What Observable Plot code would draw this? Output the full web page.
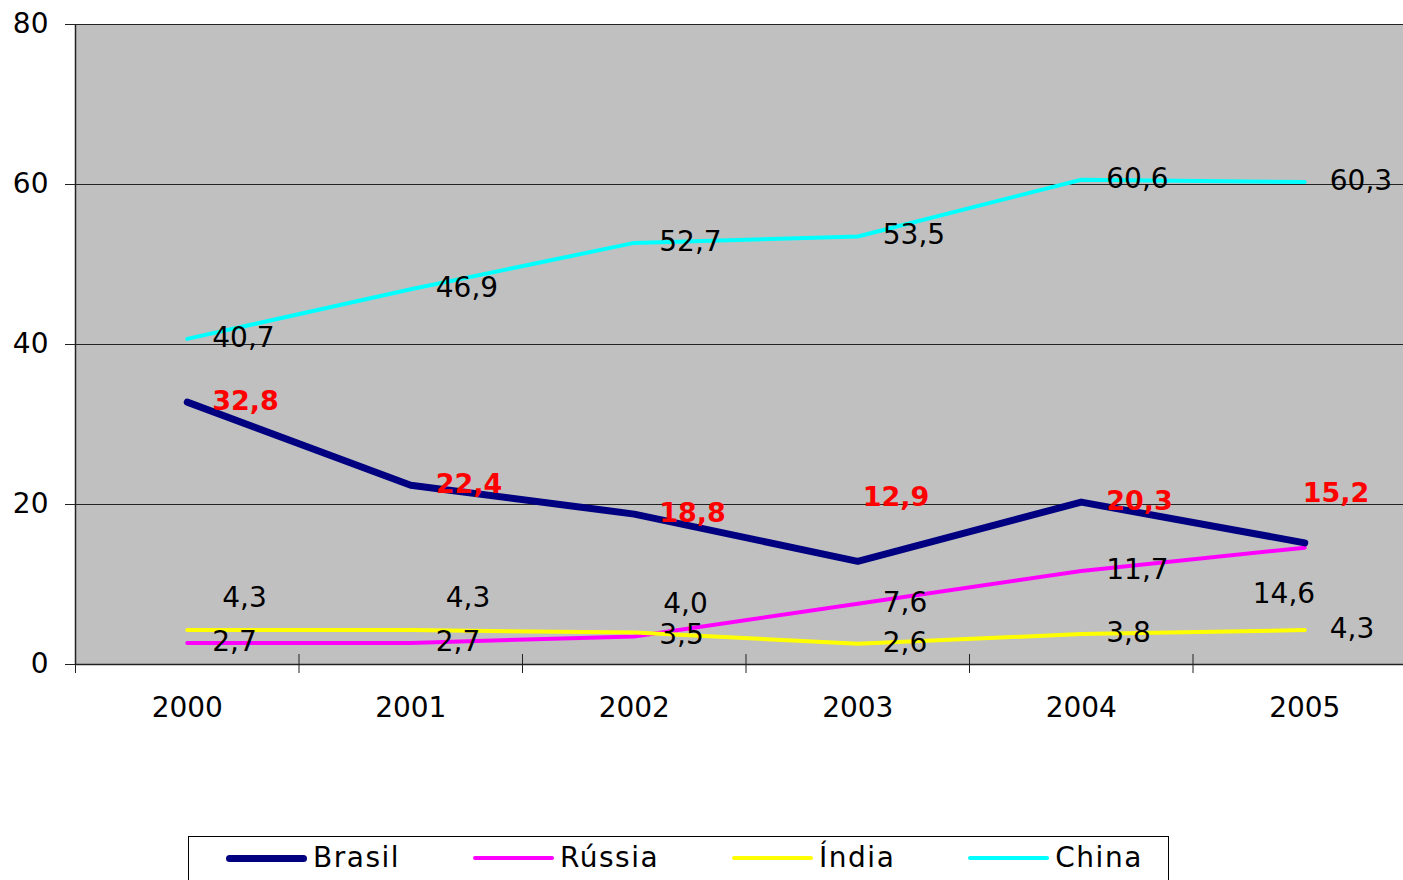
<!DOCTYPE html>
<html>
<head>
<meta charset="utf-8">
<script src="https://cdn.jsdelivr.net/npm/d3@7"></script>
<script src="https://cdn.jsdelivr.net/npm/@observablehq/plot@0.6"></script>
<style>
  html, body { margin: 0; padding: 0; background: #fff; overflow: hidden; width: 1403px; height: 880px; }
  body { font-family: "DejaVu Sans", sans-serif; }
  #chart { width: 1403px; height: 830px; overflow: hidden; }
  #chart svg { display: block; max-width: none !important; }
  #legend {
    margin: 6px 0 0 188px;
    border: 1px solid #000; border-bottom: none;
    padding: 5px 0 0 37px; width: 942px; height: 40px;
    display: flex; align-items: flex-start;
    font-size: 28px; letter-spacing: 1.5px; color: #000; line-height: 32px;
  }
  .item { display: flex; align-items: center; margin-right: 73px; height: 32px; }
  .swatch { display: inline-block; width: 81px; border-radius: 4px; margin-right: 6px; }
</style>
</head>
<body>
<div id="chart"></div>
<div id="legend"></div>
<script>
// ---- data ----
const years = [2000, 2001, 2002, 2003, 2004, 2005];
const seriesNames = ["Brasil", "Rússia", "Índia", "China"];
const brasil = [32.8, 22.4, 18.8, 12.9, 20.3, 15.2];
const russia = [2.7, 2.7, 3.5, 7.6, 11.7, 14.6];
const india  = [4.3, 4.3, 4.0, 2.6, 3.8, 4.3];
const china  = [40.7, 46.9, 52.7, 53.5, 60.6, 60.3];
const yTicks = [0, 20, 40, 60, 80];

// ---- styles ----
const colors = {"Brasil": "#000080", "Rússia": "#FF00FF", "Índia": "#FFFF00", "China": "#00FFFF"};
const widths = {"Brasil": 7, "Rússia": 4, "Índia": 4, "China": 4};
const drawOrder = ["Rússia", "Índia", "China", "Brasil"];
// pixel nudges for data labels [dx, dy]
const defaultNudge = [25, -1];
const nudges = {
  "Brasil|2003": [5, -64], "Brasil|2005": [-2, -50],
  "Rússia|2005": [-52, 46],
  "Índia|2000": [35, -32], "Índia|2001": [35, -32], "Índia|2002": [29, -28]
};

const valuesBy = {"Brasil": brasil, "Rússia": russia, "Índia": india, "China": china};
const rows = [];
for (const s of seriesNames) {
  valuesBy[s].forEach((v, i) => rows.push({series: s, year: years[i], value: v}));
}
const fmt = v => d3.format(".1f")(v).replace(".", ",");
const boundaries = [years[0] - 0.5, ...years.map(y => y + 0.5)];

const marks = [
  Plot.frame({fill: "#C0C0C0", stroke: "none"}),
  Plot.gridY(yTicks.filter(v => v > 0), {stroke: "#222", strokeOpacity: 1, strokeWidth: 1}),
  Plot.ruleY([0], {stroke: "#222", strokeWidth: 1.5}),
  Plot.axisY({ticks: yTicks, tickSize: 10, tickPadding: 17, label: null, stroke: "#222"}),
  Plot.axisX({ticks: years, tickSize: 0, tickPadding: 33, tickFormat: d => String(d), label: null}),
  Plot.axisX({ticks: boundaries, tickSize: 19, dy: -10, tickFormat: () => "", label: null, stroke: "#222"}),
  Plot.ruleX([boundaries[0]], {stroke: "#222", strokeWidth: 1.5})
];

for (const s of drawOrder) {
  marks.push(Plot.line(rows.filter(r => r.series === s), {
    x: "year", y: "value", stroke: colors[s], strokeWidth: widths[s],
    strokeLinecap: "round", strokeLinejoin: "round"
  }));
}

// group labels by nudge to give each group constant dx/dy
const groups = d3.group(rows, r => {
  const n = nudges[r.series + "|" + r.year] || defaultNudge;
  return n.join(",") + "|" + (r.series === "Brasil" ? "b" : "n");
});
for (const [key, grp] of groups) {
  const [dx, dy] = key.split("|")[0].split(",").map(Number);
  const bold = key.endsWith("|b");
  marks.push(Plot.text(grp, {
    x: "year", y: "value", text: d => fmt(d.value),
    dx, dy, textAnchor: "start",
    fill: bold ? "#FF0000" : "#000",
    fontWeight: bold ? "bold" : "normal",
    fontSize: bold ? 27 : 28
  }));
}

const chart = Plot.plot({
  width: 1416,
  height: 830,
  marginLeft: 75,
  marginRight: 0,
  marginTop: 24,
  marginBottom: 166,
  style: {fontFamily: "'DejaVu Sans', sans-serif", fontSize: "28px", color: "#000", background: "#fff", overflow: "visible", maxWidth: "none"},
  x: {type: "linear", domain: [years[0] - 0.5, years[years.length - 1] + 0.5]},
  y: {domain: [0, 80]},
  marks
});
document.getElementById("chart").appendChild(chart);

// legend
const legend = document.getElementById("legend");
for (const s of seriesNames) {
  const item = document.createElement("div");
  item.className = "item";
  const sw = document.createElement("span");
  sw.className = "swatch";
  sw.style.background = colors[s];
  sw.style.height = widths[s] + "px";
  const label = document.createElement("span");
  label.textContent = s;
  item.appendChild(sw);
  item.appendChild(label);
  legend.appendChild(item);
}
</script>
</body>
</html>
